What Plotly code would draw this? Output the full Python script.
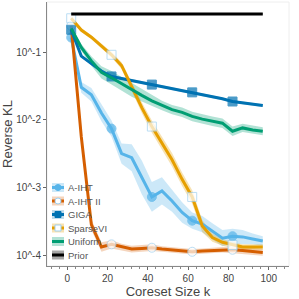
import plotly.graph_objects as go

k = [2, 7, 12, 17, 22, 27, 32, 37, 42, 47, 52, 57, 62, 67, 72, 77, 82, 87, 92, 97]

# log10 of reverse KL (median lines)
aiht = [-0.785, -1.52, -1.63, -1.90, -2.13, -2.50, -2.56, -2.85, -3.14, -3.05,
        -3.20, -3.37, -3.49, -3.54, -3.65, -3.75, -3.72, -3.73, -3.76, -3.79]
aiht2 = [-0.61, -2.25, -3.55, -3.88, -3.84, -3.88, -3.91, -3.90, -3.89, -3.91,
         -3.92, -3.93, -3.95, -3.94, -3.93, -3.92, -3.92, -3.93, -3.95, -3.96]
giga = [-0.67, -1.06, -1.17, -1.28, -1.36, -1.39, -1.42, -1.45, -1.48, -1.51,
        -1.54, -1.57, -1.595, -1.62, -1.65, -1.69, -1.73, -1.75, -1.77, -1.79]
sparsevi = [-0.50, -0.675, -0.78, -0.91, -1.04, -1.20, -1.51, -1.82, -2.10, -2.34,
            -2.59, -2.88, -3.14, -3.57, -3.74, -3.81, -3.85, -3.88, -3.88, -3.88]
uniform = [-0.65, -0.93, -1.13, -1.30, -1.38, -1.47, -1.56, -1.64, -1.72, -1.79,
           -1.85, -1.89, -1.95, -1.99, -2.02, -2.05, -2.17, -2.12, -2.15, -2.17]
prior = [-0.436] * 20

# band half-widths (log10 units)
aiht_bw = [0.03, 0.08, 0.10, 0.12, 0.12, 0.15, 0.20, 0.25, 0.22, 0.20,
           0.16, 0.15, 0.12, 0.12, 0.12, 0.12, 0.11, 0.10, 0.08, 0.07]
aiht2_bw = [0.03, 0.08, 0.08, 0.07, 0.06, 0.05, 0.05, 0.05, 0.05, 0.04,
            0.04, 0.04, 0.04, 0.04, 0.04, 0.04, 0.05, 0.05, 0.05, 0.05]
giga_bw = [0.02] * 20
sparsevi_bw = [0.02, 0.03, 0.03, 0.04, 0.04, 0.05, 0.06, 0.08, 0.09, 0.10,
               0.10, 0.10, 0.10, 0.09, 0.06, 0.05, 0.04, 0.04, 0.04, 0.04]
uniform_bw = [0.03, 0.05, 0.07, 0.09, 0.10, 0.10, 0.10, 0.09, 0.08, 0.07,
              0.07, 0.07, 0.07, 0.07, 0.07, 0.07, 0.07, 0.06, 0.06, 0.06]
prior_bw = [0.01] * 20

series_names = ["A-IHT", "A-IHT II", "GIGA", "SparseVI", "Uniform", "Prior"]
x_ticks = [0, 20, 40, 60, 80, 100]
y_tick_vals = [1e-4, 1e-3, 1e-2, 1e-1]
y_tick_text = ["10^-4", "10^-3", "10^-2", "10^-1"]

styles = {
    "A-IHT": dict(col="#56B4E9", sym="circle", fill="#56B4E9", edge="#56B4E9",
                  band="rgba(86,180,233,0.30)", marker=True),
    "A-IHT II": dict(col="#D55E00", sym="circle", fill="white", edge="#9fd0f0",
                     band="rgba(230,150,90,0.40)", marker=True),
    "GIGA": dict(col="#0072B2", sym="square", fill="#0072B2", edge="#0072B2",
                 band="rgba(0,114,178,0.25)", marker=True),
    "SparseVI": dict(col="#E69F00", sym="square", fill="white", edge="#9fd0f0",
                     band="rgba(230,159,0,0.30)", marker=True),
    "Uniform": dict(col="#009E73", sym="circle", fill="#009E73", edge="#009E73",
                    band="rgba(0,158,115,0.30)", marker=False),
    "Prior": dict(col="black", sym="circle", fill="black", edge="black",
                  band="rgba(0,0,0,0.35)", marker=False),
}
data = {"A-IHT": (aiht, aiht_bw), "A-IHT II": (aiht2, aiht2_bw), "GIGA": (giga, giga_bw),
        "SparseVI": (sparsevi, sparsevi_bw), "Uniform": (uniform, uniform_bw),
        "Prior": (prior, prior_bw)}

fig = go.Figure()
for name in series_names:
    vals, bw = data[name]
    st = styles[name]
    lo = [10 ** (v - b) for v, b in zip(vals, bw)]
    hi = [10 ** (v + b) for v, b in zip(vals, bw)]
    fig.add_trace(go.Scatter(x=k, y=lo, mode="lines", line=dict(width=0),
                             showlegend=False, hoverinfo="skip"))
    fig.add_trace(go.Scatter(x=k, y=hi, mode="lines", line=dict(width=0),
                             fill="tonexty", fillcolor=st["band"],
                             showlegend=False, hoverinfo="skip"))
for name in series_names:
    vals, bw = data[name]
    st = styles[name]
    y = [10 ** v for v in vals]
    if st["marker"]:
        sizes = [9 if i % 4 == 0 else 0 for i in range(len(k))]
        mode = "lines+markers"
    else:
        sizes = 0
        mode = "lines"
    fig.add_trace(go.Scatter(
        x=k, y=y, name=name, mode=mode, showlegend=False,
        line=dict(color=st["col"], width=3),
        marker=dict(symbol=st["sym"], size=sizes, color=st["fill"],
                    line=dict(color=st["edge"], width=1)),
    ))

# plot area in pixels (for legend placement)
L, R, T, B = 47, 289, 2, 266
W, H = 299, 299


def xp(px):
    return (px - L) / (R - L)


def yp(py):
    return (B - py) / (B - T)


shapes = []
annots = []
for i, name in enumerate(series_names):
    st = styles[name]
    cy = 187.5 + 13.5 * i
    shapes.append(dict(type="rect", xref="paper", yref="paper",
                       x0=xp(52), x1=xp(64), y0=yp(cy + 4.5), y1=yp(cy - 4.5),
                       fillcolor=st["band"], line=dict(width=0)))
    shapes.append(dict(type="line", xref="paper", yref="paper",
                       x0=xp(52), x1=xp(64), y0=yp(cy), y1=yp(cy),
                       line=dict(color=st["col"], width=3)))
    if st["marker"]:
        shapes.append(dict(type="circle" if st["sym"] == "circle" else "rect",
                           xref="paper", yref="paper",
                           x0=xp(55), x1=xp(61), y0=yp(cy + 3), y1=yp(cy - 3),
                           fillcolor=st["fill"], line=dict(color=st["edge"], width=1)))
    annots.append(dict(text=name, xref="paper", yref="paper", x=xp(66), y=yp(cy),
                       xanchor="left", yanchor="middle", showarrow=False,
                       font=dict(size=9.5, color="#555")))

shapes.append(dict(type="rect", xref="paper", yref="paper", x0=0, x1=1, y0=0, y1=1,
                   line=dict(color="#eeeeee", width=1), layer="below"))

font = "Liberation Sans, Arial, sans-serif"
fig.update_layout(
    width=W, height=H,
    margin=dict(l=L, r=W - R, t=T, b=H - B),
    paper_bgcolor="white", plot_bgcolor="white",
    font=dict(family=font, size=10, color="#444"),
    showlegend=False,
    shapes=shapes, annotations=annots,
    xaxis=dict(range=[-10, 110], tickvals=x_ticks, automargin=False,
               ticks="outside", ticklen=3, tickcolor="#666",
               showline=True, linecolor="#888", linewidth=1, mirror=False,
               showgrid=False, zeroline=False,
               minor=dict(dtick=4, ticks="outside", ticklen=2, tickcolor="#888"),
               title=dict(text="Coreset Size k", font=dict(size=13, color="#444"), standoff=3),
               tickfont=dict(size=10, color="#444")),
    yaxis=dict(type="log", range=[-4.16, -0.26], automargin=False,
               tickvals=y_tick_vals, ticktext=y_tick_text,
               ticks="outside", ticklen=3, tickcolor="#666",
               showline=True, linecolor="#888", linewidth=1,
               showgrid=False, zeroline=False,
               title=dict(text="Reverse KL", font=dict(size=13, color="#444"), standoff=2),
               tickfont=dict(size=10, color="#444")),
)
fig.write_html("out.html", config={"displayModeBar": False},
               post_script="document.body.style.margin='0';document.body.style.padding='0';")
